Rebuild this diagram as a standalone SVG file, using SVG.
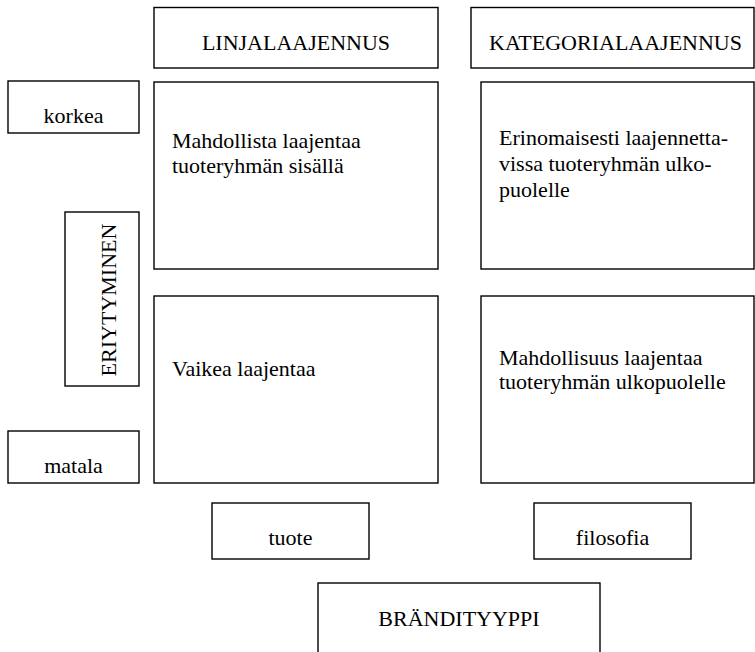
<svg xmlns="http://www.w3.org/2000/svg" width="755" height="652" viewBox="0 0 755 652" font-family="Liberation Serif, DejaVu Serif, serif">
<style>
rect{fill:#fff;stroke:#000;stroke-width:1.4}
text{font-family:'Liberation Serif','DejaVu Serif',serif;font-size:22px;fill:#000}
.c{text-anchor:middle}
</style>
<rect x="0" y="0" width="755" height="652" style="stroke:none"/>
<g id="connectors"/>
<g id="linjalaajennus"><rect x="154" y="7.5" width="284" height="60.5"/><text class="c" x="296" y="50">LINJALAAJENNUS</text></g>
<g id="kategorialaajennus"><rect x="471" y="7.5" width="283" height="60.5"/><text x="489" y="50">KATEGORIALAAJENNUS</text></g>
<g id="korkea"><rect x="8" y="81" width="131" height="52"/><text class="c" x="73.5" y="123">korkea</text></g>
<g id="linja-korkea"><rect x="154" y="82" width="284" height="187"/><text x="172" y="148">Mahdollista laajentaa</text><text x="172" y="173">tuoteryhmän sisällä</text></g>
<g id="kategoria-korkea"><rect x="481" y="82" width="273" height="187"/><text x="499" y="145">Erinomaisesti laajennetta-</text><text x="499" y="171">vissa tuoteryhmän ulko-</text><text x="499" y="197">puolelle</text></g>
<g id="eriytyminen"><rect x="65" y="212" width="74" height="174"/><text class="c" transform="translate(116,300) rotate(-90)">ERIYTYMINEN</text></g>
<g id="linja-matala"><rect x="154" y="296" width="284" height="187"/><text x="172" y="376">Vaikea laajentaa</text></g>
<g id="kategoria-matala"><rect x="481" y="296" width="273" height="187"/><text x="499" y="365">Mahdollisuus laajentaa</text><text x="499" y="389">tuoteryhmän ulkopuolelle</text></g>
<g id="matala"><rect x="8" y="431" width="131" height="52"/><text class="c" x="73.5" y="473">matala</text></g>
<g id="tuote"><rect x="212" y="503" width="157" height="56"/><text class="c" x="290.5" y="545">tuote</text></g>
<g id="filosofia"><rect x="534" y="503" width="157" height="56"/><text class="c" x="612.5" y="545">filosofia</text></g>
<g id="brandityyppi"><rect x="318" y="583" width="282" height="80"/><text class="c" x="459" y="626">BRÄNDITYYPPI</text></g>
</svg>
